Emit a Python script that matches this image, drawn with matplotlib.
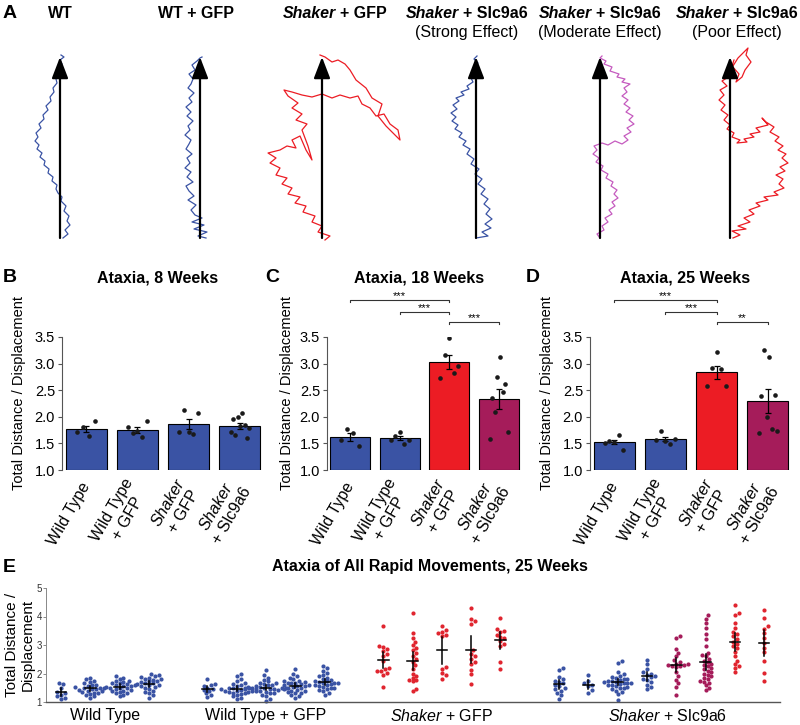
import numpy as np
import matplotlib
matplotlib.use('Agg')
import matplotlib.pyplot as plt
from matplotlib.ticker import FormatStrFormatter

plt.rcParams['font.family'] = ['Liberation Sans', 'DejaVu Sans']
plt.rcParams['mathtext.fontset'] = 'custom'
plt.rcParams['mathtext.rm'] = 'Liberation Sans'
plt.rcParams['mathtext.it'] = 'Liberation Sans:italic'
plt.rcParams['mathtext.bf'] = 'Liberation Sans:bold'

BLUE = '#3a53a4'
RED = '#ec1c24'
CRIMSON = '#a51c5a'
MAGENTA = '#c55bbf'

# ---- panel A: example paths (x offset from arrow, y in px) ----
wt_dx = [3, 8, 5, 10, 7, 9, 4, 6, 1, 2, -2, -4, -3, -8, -7, -12, -11, -16, -15, -20,
         -18, -23, -21, -25, -22, -24, -19, -21, -16, -17, -12, -14, -9, -10, -6, -7, -3, -4, -1, -2,
         2, 0, 4, 1]
wt_y = [238, 234, 230, 225, 221, 216, 211, 206, 201, 197, 193, 189, 185, 181, 177, 173, 169, 165, 161, 157,
        153, 149, 145, 141, 137, 133, 128, 124, 119, 115, 110, 106, 101, 97, 92, 88, 83, 79, 74, 69,
        64, 60, 57, 55]
wtgfp_dx = [6, -2, 7, -6, 4, -8, 2, -5, -9, -4, -12, -6, -11, -14, -7, -13, -9, -15, -10, -13,
            -8, -14, -11, -9, -15, -10, -12, -7, -13, -9, -14, -8, -11, -6, -12, -9, -7, -11, -5, -8,
            -3, 0, 2]
wtgfp_y = [238, 236, 232, 229, 225, 222, 218, 215, 210, 205, 200, 196, 191, 186, 182, 177, 172, 168, 163, 158,
           154, 149, 144, 140, 135, 130, 126, 121, 116, 112, 107, 102, 98, 93, 88, 84, 79, 74, 70, 65,
           61, 58, 57]
shgfp_dx = [3, 8, -4, 0, -10, -7, -19, -16, -27, -22, -34, -30, -40, -35, -46, -42, -52, -46, -54, -42,
            -35, -26, -30, -22, -16, -10, -14, -20, -15, -26, -20, -30, -24, -34, -38, -30, -20, -10, 0, 10,
            18, 28, 36, 40, 48, 54, 62, 68, 76, 78, 72, 64, 56, 60, 50, 44, 34, 28, 23, 16,
            10, 3, -2]
shgfp_y = [240, 236, 232, 226, 222, 216, 212, 206, 203, 197, 194, 188, 184, 178, 175, 168, 163, 158, 153, 150,
           146, 148, 140, 136, 150, 160, 146, 130, 124, 120, 114, 108, 103, 96, 90, 92, 95, 97, 94, 98,
           95, 98, 96, 104, 108, 116, 114, 124, 130, 140, 134, 126, 116, 104, 98, 88, 80, 70, 64, 60,
           62, 57, 55]
strong_dx = [0, 12, 6, 15, 9, 16, 10, 14, 8, 12, 5, 9, 2, 6, -1, 3, -5, -2, -9, -6,
             -13, -10, -17, -14, -21, -18, -24, -20, -25, -19, -23, -17, -20, -12, -15, -7, -9, -3, -5, 1,
             -3, 2, -2, 1]
strong_y = [238, 236, 232, 228, 224, 219, 214, 209, 204, 199, 194, 189, 184, 179, 174, 169, 164, 159, 154, 149,
            145, 141, 137, 133, 129, 125, 121, 117, 113, 109, 105, 101, 98, 95, 92, 89, 86, 82, 78, 73,
            68, 63, 59, 56]
moderate_dx = [0, -3, 4, 2, 8, 5, 12, 9, 15, 12, 18, 14, 17, 11, 13, 6, 8, 1, 3, -4,
               -1, -7, -3, -6, 2, 8, 15, 22, 28, 24, 31, 27, 34, 29, 33, 26, 30, 24, 28, 22,
               27, 24, 30, 22, 25, 17, 19, 10, 12, 4, 6, 0, 2]
moderate_y = [238, 234, 230, 226, 222, 218, 214, 210, 206, 202, 198, 194, 190, 186, 182, 178, 174, 170, 166, 162,
              158, 154, 150, 146, 143, 145, 141, 144, 140, 136, 132, 128, 124, 120, 116, 112, 108, 104, 100, 96,
              92, 88, 84, 82, 79, 77, 74, 71, 67, 64, 61, 58, 56]
poor_dx = [3, 10, 2, 16, 8, 20, 14, 24, 19, 30, 26, 38, 34, 48, 44, 54, 49, 53, 46, 55,
           50, 58, 52, 56, 48, 53, 45, 49, 40, 44, 36, 32, 38, 26, 30, 20, 24, 14, 17, 7,
           10, 2, 4, -3, 0, -6, -2, -9, -5, -11, -6, -10, -3, -8, 0, -4, 3, 8, 14, 18,
           16, 21, 15, 12, 6, 9, 2, 4]
poor_y = [238, 235, 231, 229, 226, 222, 218, 214, 210, 206, 203, 200, 197, 195, 192, 188, 184, 179, 175, 171,
          167, 163, 158, 154, 150, 146, 141, 137, 132, 127, 122, 118, 125, 128, 132, 134, 137, 139, 142, 143,
          140, 137, 133, 129, 125, 120, 115, 110, 105, 100, 95, 90, 86, 81, 76, 71, 66, 58, 52, 48,
          55, 62, 70, 77, 82, 74, 66, 60]

# ---- panels B-D: per-mouse ratios ----
group_labels = ['Wild Type', 'Wild Type\n+ GFP',
                r'$\mathit{Shaker}$' + '\n+ GFP', r'$\mathit{Shaker}$' + '\n+ Slc9a6']
wk8 = [[1.72, 1.81, 1.63, 1.92],
       [1.81, 1.69, 1.73, 1.62, 1.92],
       [1.71, 2.13, 1.71, 1.68, 2.08],
       [1.72, 1.96, 1.66, 2.0, 1.83, 2.08, 1.84, 1.61, 1.79]]
wk18 = [[1.57, 1.78, 1.69, 1.45],
        [1.56, 1.64, 1.71, 1.49, 1.57],
        [2.72, 3.16, 3.48, 2.82, 2.95],
        [1.59, 2.36, 2.09, 2.75, 3.12, 2.46, 2.62, 1.72]]
wk25 = [[1.51, 1.54, 1.53, 1.66, 1.38],
        [1.56, 1.74, 1.54, 1.48, 1.59],
        [2.58, 2.91, 3.21, 2.89, 2.58],
        [1.7, 2.4, 3.26, 1.99, 3.12, 1.78, 2.41, 1.73]]
sig18 = [(0, 2, 4.19, '***'), (1, 2, 3.97, '***'), (2, 3, 3.78, '***')]
sig25 = [(0, 2, 4.19, '***'), (1, 2, 3.97, '***'), (2, 3, 3.78, '**')]

# ---- panel E: every rapid movement, per mouse ----
rapid = [
    [1.65, 1.62, 1.5, 1.35, 1.3, 1.25, 1.2, 1.15, 1.1],
    [1.85, 1.8, 1.75, 1.7, 1.65, 1.6, 1.58, 1.55, 1.52, 1.5, 1.5, 1.48, 1.45, 1.45, 1.42, 1.4, 1.38, 1.35,
     1.33, 1.3, 1.28, 1.25, 1.2, 1.15],
    [1.9, 1.85, 1.8, 1.75, 1.72, 1.7, 1.68, 1.65, 1.62, 1.6, 1.58, 1.55, 1.55, 1.52, 1.5, 1.5, 1.48, 1.45,
     1.42, 1.4, 1.38, 1.35, 1.32, 1.3, 1.25, 1.2],
    [1.98, 1.95, 1.9, 1.88, 1.85, 1.82, 1.8, 1.78, 1.75, 1.72, 1.7, 1.68, 1.65, 1.62, 1.6, 1.58, 1.55, 1.52,
     1.5, 1.45, 1.4, 1.35, 1.3, 1.25, 1.15],
    [1.8, 1.62, 1.58, 1.55, 1.5, 1.45, 1.42, 1.38, 1.3, 1.25, 1.18],
    [2.0, 1.9, 1.8, 1.72, 1.68, 1.62, 1.6, 1.55, 1.52, 1.5, 1.48, 1.46, 1.45, 1.44, 1.42, 1.4, 1.4, 1.38,
     1.36, 1.35, 1.33, 1.3, 1.28, 1.25, 1.2, 1.15, 1.1],
    [2.12, 1.95, 1.85, 1.78, 1.72, 1.68, 1.65, 1.62, 1.6, 1.58, 1.55, 1.52, 1.5, 1.5, 1.48, 1.48, 1.48, 1.48,
     1.46, 1.45, 1.42, 1.4, 1.38, 1.35, 1.32, 1.3, 1.25, 1.2, 1.12, 1.05],
    [2.15, 1.98, 1.9, 1.85, 1.8, 1.75, 1.72, 1.7, 1.68, 1.65, 1.65, 1.62, 1.6, 1.58, 1.55, 1.55, 1.52, 1.5,
     1.48, 1.45, 1.42, 1.4, 1.38, 1.35, 1.32, 1.3, 1.25, 1.2, 1.15],
    [2.28, 2.18, 2.1, 2.02, 1.95, 1.9, 1.85, 1.8, 1.78, 1.75, 1.72, 1.7, 1.68, 1.66, 1.65, 1.62, 1.6, 1.58,
     1.55, 1.52, 1.5, 1.48, 1.45, 1.42, 1.38, 1.32, 1.25],
    [3.67, 2.96, 2.92, 2.85, 2.78, 2.7, 2.6, 2.45, 2.2, 2.15, 2.1, 2.08, 2.02, 1.96, 1.54],
    [4.13, 3.43, 3.23, 3.11, 2.99, 2.89, 2.81, 2.71, 2.6, 2.5, 2.42, 2.3, 2.17, 1.99, 1.9, 1.85, 1.78, 1.76,
     1.72, 1.45, 1.4],
    [3.67, 3.53, 3.47, 3.41, 3.35, 3.3, 2.23, 2.17, 2.02, 1.93, 1.82],
    [4.31, 3.92, 3.83, 3.73, 2.81, 2.69, 2.6, 2.5, 2.42, 2.33, 2.14, 2.0, 1.63],
    [3.93, 3.55, 3.5, 3.45, 3.35, 3.29, 3.23, 3.13, 3.05, 2.95, 2.41, 2.17],
    [2.2, 2.12, 1.88, 1.8, 1.75, 1.7, 1.65, 1.6, 1.55, 1.5, 1.45, 1.4, 1.32, 1.25, 1.12],
    [1.95, 1.75, 1.66, 1.6, 1.55, 1.42, 1.33],
    [2.45, 2.38, 2.05, 1.98, 1.92, 1.88, 1.85, 1.82, 1.8, 1.78, 1.75, 1.72, 1.7, 1.7, 1.68, 1.66, 1.65, 1.62,
     1.6, 1.58, 1.55, 1.52, 1.5, 1.48, 1.45, 1.4, 1.35, 1.28, 1.06],
    [2.48, 2.33, 2.17, 2.05, 2.0, 1.94, 1.9, 1.86, 1.82, 1.78, 1.7, 1.6, 1.52, 1.45],
    [3.33, 3.23, 2.87, 2.72, 2.6, 2.48, 2.4, 2.35, 2.32, 2.3, 2.3, 2.28, 2.25, 2.22, 2.05, 1.9, 1.78, 1.66,
     1.54, 1.24],
    [4.05, 3.92, 3.78, 3.6, 3.38, 3.22, 2.95, 2.72, 2.65, 2.6, 2.52, 2.45, 2.4, 2.35, 2.3, 2.25, 2.2, 2.15,
     2.1, 2.05, 2.0, 1.95, 1.9, 1.85, 1.8, 1.75, 1.7, 1.65, 1.58, 1.5, 1.42],
    [4.41, 4.12, 4.05, 3.78, 3.6, 3.45, 3.38, 3.3, 3.2, 3.12, 3.02, 2.95, 2.88, 2.75, 2.6, 2.45, 2.33, 2.25,
     2.18, 2.05],
    [4.22, 3.93, 3.65, 3.57, 3.41, 3.25, 3.08, 2.9, 2.75, 2.45, 2.02, 1.75],
]
rapid_groups = ['Wild Type', 'Wild Type + GFP', r'$\mathit{Shaker}$ + GFP', r'$\mathit{Shaker}$ + Slc9a6']

W, H = 800, 725
fig = plt.figure(figsize=(8, 7.25), dpi=100)


def box(l, t, r, b):
    return [l / W, 1 - b / H, (r - l) / W, (b - t) / H]


def ftext(x, y, s, **kw):
    return fig.text(x / W, 1 - y / H, s, **kw)


def rich_text(x, y, parts, size=11.5):
    # pieces of differently styled text laid side by side, centred on x
    r = fig.canvas.get_renderer()
    objs = [ftext(0, y, s, fontsize=size, fontstyle=st, fontweight=wt, va='center', ha='left')
            for s, st, wt in parts]
    gap = size * 100 / 72 * 0.28
    widths = [t.get_window_extent(r).width for t in objs]
    cur = x - (sum(widths) + gap * (len(objs) - 1)) / 2
    for t, w in zip(objs, widths):
        t.set_x(cur / W)
        cur += w + gap


# ---------------- A ----------------
axA = fig.add_axes(box(0, 40, 800, 250))
axA.set_xlim(0, 800)
axA.set_ylim(250, 40)
axA.axis('off')
paths = [(60, wt_dx, wt_y, BLUE), (200, wtgfp_dx, wtgfp_y, BLUE), (322, shgfp_dx, shgfp_y, RED),
         (476, strong_dx, strong_y, BLUE), (600, moderate_dx, moderate_y, MAGENTA), (730, poor_dx, poor_y, RED)]
for x0, dx, yy, c in paths:
    axA.plot(x0 + np.array(dx), yy, color=c, lw=0.9, zorder=1)
    axA.annotate('', xy=(x0, 57), xytext=(x0, 238),
                 arrowprops=dict(arrowstyle='-|>,head_length=0.65,head_width=0.25', color='black',
                                 lw=1.6, mutation_scale=20, shrinkA=0, shrinkB=0), zorder=3)

ftext(3, 14, 'A', fontsize=14, fontweight='bold', va='center')
rich_text(60, 13, [('WT', 'normal', 'bold')])
rich_text(196, 13, [('WT + GFP', 'normal', 'bold')])
rich_text(335, 13, [('Shaker', 'italic', 'bold'), ('+ GFP', 'normal', 'bold')])
for cx, sub in [(467, '(Strong Effect)'), (600, '(Moderate Effect)'), (737, '(Poor Effect)')]:
    rich_text(cx, 13, [('Shaker', 'italic', 'bold'), ('+ Slc9a6', 'normal', 'bold')])
    ftext(cx, 32, sub, fontsize=11.5, ha='center', va='center')


# ---------------- B-D ----------------
def bar_panel(rect, data, colors, title, letter, ylab_x, sig=None):
    ax = fig.add_axes(box(*rect))
    x = np.arange(len(data))
    means = np.array([np.mean(v) for v in data])
    sems = np.array([np.std(v, ddof=1) / np.sqrt(len(v)) for v in data])
    ax.bar(x, means - 1, bottom=1, width=0.8, color=colors, edgecolor='black', linewidth=0.8, zorder=1)
    ax.errorbar(x, means, yerr=sems, fmt='none', ecolor='black', elinewidth=0.9,
                capsize=2.5, capthick=0.9, zorder=3)
    for i, v in enumerate(data):
        off = np.linspace(-0.18, 0.18, len(v))
        ax.scatter(i + off, v, s=11, color='#1a1a1a', linewidths=0, zorder=4)
    ax.set_xlim(-0.47, 3.45)
    ax.set_ylim(1, 3.5)
    ax.set_yticks(np.arange(1, 3.51, 0.5))
    ax.yaxis.set_major_formatter(FormatStrFormatter('%.1f'))
    for s in ['top', 'right', 'bottom']:
        ax.spines[s].set_visible(False)
    ax.spines['left'].set_color('#555555')
    ax.spines['left'].set_linewidth(0.8)
    ax.tick_params(axis='y', length=3, width=0.8, color='#555555', labelsize=10.5, pad=2)
    ax.set_xticks(x)
    ax.set_xticklabels(group_labels, rotation=60, ha='right', va='center', rotation_mode='anchor',
                       multialignment='center', fontsize=11.5)
    ax.tick_params(axis='x', length=0, pad=10)
    if sig:
        for a, b, y, lab in sig:
            ax.plot([a, a, b, b], [y - 0.04, y, y, y - 0.04], color='#333333', lw=0.8, clip_on=False)
            ax.text((a + b) / 2, y + 0.07, lab, ha='center', va='center', fontsize=8, clip_on=False)
    cx = (rect[0] + rect[2]) / 2
    ftext(cx - 5, 278, title, fontsize=11.5, fontweight='bold', ha='center', va='center')
    ftext(letter[1], 277, letter[0], fontsize=14, fontweight='bold', va='center')
    ftext(ylab_x, 393, 'Total Distance / Displacement', fontsize=10.5, rotation=90,
          ha='center', va='center')
    return ax


bar_panel((62, 337, 263, 470), wk8, [BLUE] * 4, 'Ataxia, 8 Weeks', ('B', 3), 19)
bar_panel((327, 337, 521, 470), wk18, [BLUE, BLUE, RED, CRIMSON], 'Ataxia, 18 Weeks', ('C', 265), 287,
          sig18)
bar_panel((590, 337, 791, 470), wk25, [BLUE, BLUE, RED, CRIMSON], 'Ataxia, 25 Weeks', ('D', 526), 547,
          sig25)


# ---------------- E ----------------
def swarm_offsets(vals, d=3.9, xs=29.3, ys=28.5):
    vals = np.asarray(vals, dtype=float)
    placed = []
    offs = np.zeros(len(vals))
    for i in np.argsort(vals):
        yp = vals[i] * ys
        k = 0
        pos = None
        while pos is None:
            for c in ([0.0] if k == 0 else [k * d * 0.5, -k * d * 0.5]):
                if all((c - px) ** 2 + (yp - py) ** 2 >= (0.95 * d) ** 2 for px, py in placed):
                    pos = c
                    break
            k += 1
        placed.append((pos, yp))
        offs[i] = pos / xs
    return offs


col_x = [0, 1, 2, 3, 5, 6, 7, 8, 9, 11, 12, 13, 14, 15, 17, 18, 19, 20, 21, 22, 23, 24]
col_c = [BLUE] * 9 + ['#e0252f'] * 5 + [BLUE] * 4 + [CRIMSON] * 2 + ['#e0252f'] * 2

axE = fig.add_axes(box(46, 588, 780, 702))
for xi, vals, c in zip(col_x, rapid, col_c):
    v = np.array(vals)
    axE.scatter(xi + swarm_offsets(v), v, s=9, color=c, linewidths=0, zorder=2, clip_on=False)
    m = v.mean()
    e = 2.1 * v.std(ddof=1) / np.sqrt(len(v))
    axE.plot([xi, xi], [m - e, m + e], color='black', lw=1.1, zorder=3)
    axE.plot([xi - 0.18, xi + 0.18], [m, m], color='black', lw=1.1, zorder=3)
axE.set_xlim(-0.51, 24.54)
axE.set_ylim(1, 5)
axE.set_yticks([1, 2, 3, 4, 5])
axE.tick_params(axis='y', length=2, width=0.6, color='#777777', labelsize=7, labelcolor='#333333', pad=1)
axE.set_xticks([1.5, 7, 13, 20.7])
axE.set_xticklabels(rapid_groups, fontsize=11.5)
axE.tick_params(axis='x', length=0, pad=4)
for s in ['top', 'right']:
    axE.spines[s].set_visible(False)
axE.spines['left'].set_color('#888888')
axE.spines['left'].set_linewidth(0.7)
axE.spines['bottom'].set_color('#555555')
axE.spines['bottom'].set_linewidth(1.0)

ftext(3, 567, 'E', fontsize=14, fontweight='bold', va='center')
ftext(430, 567, 'Ataxia of All Rapid Movements, 25 Weeks', fontsize=11.5, fontweight='bold',
      ha='center', va='center')
ftext(20, 645, 'Total Distance /\nDisplacement', fontsize=11, rotation=90, ha='center', va='center',
      multialignment='center')

fig.savefig('out.png', dpi=100)
